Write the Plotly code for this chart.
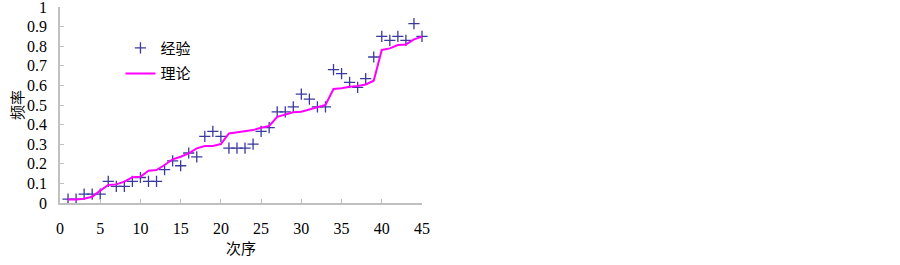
import plotly.graph_objects as go

order = list(range(1, 46))
empirical = [0.02, 0.02, 0.045, 0.045, 0.045, 0.11, 0.085, 0.085, 0.11, 0.13,
             0.11, 0.11, 0.17, 0.215, 0.19, 0.255, 0.235, 0.34, 0.365, 0.34,
             0.28, 0.28, 0.28, 0.30, 0.365, 0.385, 0.465, 0.465, 0.49, 0.555,
             0.53, 0.49, 0.49, 0.68, 0.66, 0.615, 0.59, 0.635, 0.745, 0.85,
             0.83, 0.85, 0.83, 0.915, 0.85]
theory = [0.018, 0.018, 0.022, 0.032, 0.063, 0.092, 0.095, 0.109, 0.131, 0.134,
          0.165, 0.168, 0.194, 0.223, 0.236, 0.253, 0.279, 0.291, 0.291, 0.301,
          0.355, 0.36, 0.364, 0.372, 0.384, 0.393, 0.44, 0.452, 0.463, 0.466,
          0.478, 0.488, 0.5, 0.582, 0.585, 0.593, 0.597, 0.605, 0.624, 0.781,
          0.789, 0.806, 0.809, 0.835, 0.848]
x_ticks = [0, 5, 10, 15, 20, 25, 30, 35, 40, 45]
y_ticks = [0, 0.1, 0.2, 0.3, 0.4, 0.5, 0.6, 0.7, 0.8, 0.9, 1]
y_tick_text = ["0", "0.1", "0.2", "0.3", "0.4", "0.5", "0.6", "0.7", "0.8", "0.9", "1"]

serif = "Liberation Serif"
cjk = "Noto Sans CJK SC"

fig = go.Figure()
fig.add_trace(go.Scatter(
    x=order, y=empirical, mode="markers", name="经验", legend="legend",
    marker=dict(symbol="cross-thin", size=8, color="#3a3a9e",
                line=dict(color="#3a3a9e", width=1.3)),
    cliponaxis=False,
))
fig.add_trace(go.Scatter(
    x=order, y=theory, mode="lines", name="理论", legend="legend2",
    line=dict(color="#ff00ff", width=2),
    cliponaxis=False,
))

axis_common = dict(
    showgrid=False, zeroline=False, showline=True, linecolor="#c0c0c0",
    linewidth=1.5, ticks="inside", ticklen=4, tickcolor="#c0c0c0",
    automargin=False, ticklabeloverflow="allow",
    tickfont=dict(family=serif, size=16, color="#000"),
)

fig.update_layout(
    template="none",
    width=900, height=265,
    margin=dict(l=60, r=478, t=7, b=62),
    paper_bgcolor="white", plot_bgcolor="white",
    xaxis=dict(range=[0, 45], tickvals=x_ticks, ticklabelstandoff=10,
               title=dict(text="次序", font=dict(family=cjk, size=15, color="#000"),
                          standoff=4),
               **axis_common),
    yaxis=dict(range=[0, 1], tickvals=y_ticks, ticktext=y_tick_text,
               ticklabelstandoff=8,
               title=dict(text="频率", font=dict(family=cjk, size=15, color="#000"),
                          standoff=0),
               **axis_common),
    showlegend=True,
    legend=dict(x=0.167, y=0.79, xanchor="left", yanchor="middle",
                font=dict(family=cjk, size=15, color="#000"),
                bgcolor="rgba(0,0,0,0)", borderwidth=0),
    legend2=dict(x=0.167, y=0.66, xanchor="left", yanchor="middle",
                 font=dict(family=cjk, size=15, color="#000"),
                 bgcolor="rgba(0,0,0,0)", borderwidth=0),
)

fig.write_html("out.html", config={"displayModeBar": False},
               post_script="document.body.style.margin='0';document.body.style.padding='0';")
